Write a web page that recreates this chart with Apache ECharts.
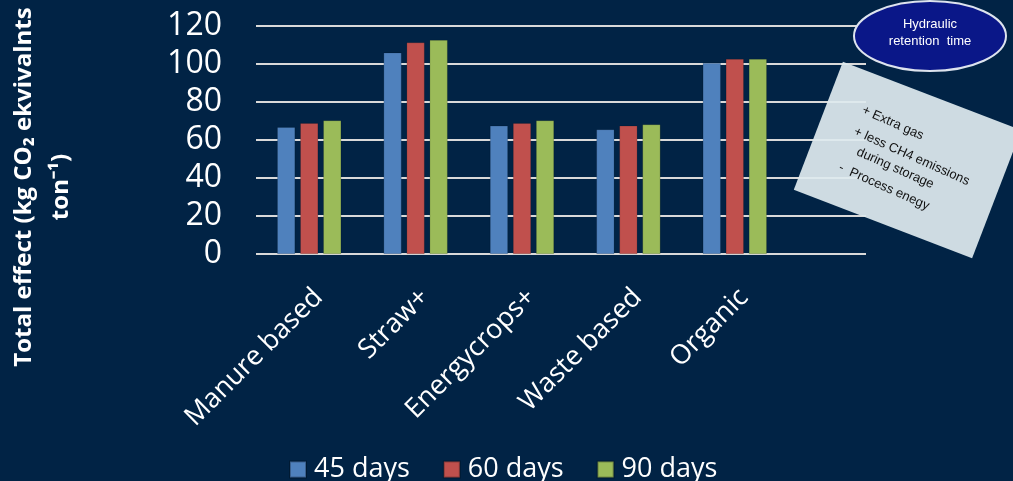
<!DOCTYPE html>
<html>
<head>
<meta charset="utf-8">
<script src="https://cdn.jsdelivr.net/npm/echarts@6/dist/echarts.min.js"></script>
<style>
html,body{margin:0;padding:0;background:#012345;}
#main{width:1013px;height:481px;}
</style>
</head>
<body>
<div id="main"></div>
<script>
const categories = ['Manure based', 'Straw+', 'Energycrops+', 'Waste based', 'Organic'];
const seriesNames = ['45 days', '60 days', '90 days'];
const days45 = [66.8, 106, 67.5, 65.6, 100.6];
const days60 = [68.9, 111.3, 68.9, 67.5, 102.6];
const days90 = [70.3, 112.6, 70.3, 68.2, 102.6];
const yTicks = [0, 20, 40, 60, 80, 100, 120];
const yTitle = 'Total effect (kg CO\u2082 ekvivalnts\nton\u207B\u00B9)';
const colors = ['#4f81bd', '#c0504d', '#9bbb59'];

const FONT = '"Open Sans", sans-serif';
const NOTE_FONT = '13px "Liberation Sans", Arial, sans-serif';
const chart = echarts.init(document.getElementById('main'), null, {renderer: 'canvas'});

const seriesData = [days45, days60, days90];
const tr = -3 * Math.PI / 180;
const option = {
  backgroundColor: '#012345',
  animation: false,
  grid: [
    {left: 256, top: 26, width: 532, height: 228, containLabel: false, outerBoundsMode: 'none'},
    {left: 256, top: 26, width: 610, height: 228, containLabel: false, outerBoundsMode: 'none'}
  ],
  legend: {
    data: seriesNames,
    left: 284,
    top: 451,
    itemWidth: 16,
    itemHeight: 16,
    itemGap: 33,
    icon: 'rect',
    textStyle: {color: '#ffffff', fontSize: 27, fontFamily: FONT, padding: [0, 0, 0, 3]}
  },
  xAxis: [
    {
      type: 'category', gridIndex: 0, data: categories,
      axisLine: {show: false}, axisTick: {show: false},
      axisLabel: {color: '#ffffff', fontSize: 27, fontFamily: FONT, rotate: 45, margin: 30, interval: 0,
        verticalAlign: 'top', lineHeight: 26}
    },
    {
      type: 'category', gridIndex: 1, data: categories, show: false
    }
  ],
  yAxis: [
    {
      type: 'value', gridIndex: 0, min: yTicks[0], max: yTicks[yTicks.length - 1], interval: 20,
      axisLine: {show: false}, axisTick: {show: false}, splitLine: {show: false},
      axisLabel: {color: '#ffffff', fontSize: 32, fontFamily: FONT, margin: 34, showMinLabel: true, showMaxLabel: true}
    },
    {
      type: 'value', gridIndex: 1, min: yTicks[0], max: yTicks[yTicks.length - 1], interval: 20,
      axisLine: {show: false}, axisTick: {show: false}, axisLabel: {show: false},
      splitLine: {show: true, lineStyle: {color: '#d9d9d9', width: 2}}
    }
  ],
  series: seriesNames.map((n, i) => ({
    name: n, type: 'bar', xAxisIndex: 0, yAxisIndex: 0,
    data: seriesData[i],
    barWidth: 18, barGap: '28%',
    itemStyle: {color: colors[i], borderColor: 'rgba(0,0,0,0.25)', borderWidth: 0.6},
    z: 3
  })),
  graphic: [
    {
      type: 'text', z: 10, x: 43, y: 187, rotation: Math.PI / 2,
      style: {text: yTitle, fill: '#ffffff', font: 'bold 24px "Open Sans", sans-serif', align: 'center', verticalAlign: 'middle', lineHeight: 37}
    },
    {
      type: 'ellipse', z: 20,
      shape: {cx: 930, cy: 36, rx: 76, ry: 35},
      style: {fill: '#0a1788', stroke: '#dde3ee', lineWidth: 2}
    },
    {
      type: 'text', z: 21, x: 930, y: 33,
      style: {text: 'Hydraulic\nretention  time', fill: '#ffffff', font: NOTE_FONT, align: 'center', verticalAlign: 'middle', lineHeight: 17}
    },
    {
      type: 'group', z: 20, x: 907.5, y: 160, rotation: -21 * Math.PI / 180,
      children: [
        {type: 'rect', z: 20, shape: {x: -95.5, y: -68.5, width: 191, height: 137},
          style: {fill: 'rgba(222,234,238,0.93)'}},
        {type: 'text', z: 21, x: -60, y: -31, rotation: tr, style: {text: '+ Extra gas', fill: '#111', font: NOTE_FONT, verticalAlign: 'middle'}},
        {type: 'text', z: 21, x: -60, y: -8, rotation: tr, style: {text: '+ less CH4 emissions', fill: '#111', font: NOTE_FONT, verticalAlign: 'middle'}},
        {type: 'text', z: 21, x: -50, y: 10, rotation: tr, style: {text: 'during storage', fill: '#111', font: NOTE_FONT, verticalAlign: 'middle'}},
        {type: 'text', z: 21, x: -61, y: 31, rotation: tr, style: {text: '-  Process enegy', fill: '#111', font: NOTE_FONT, verticalAlign: 'middle'}}
      ]
    }
  ]
};
chart.setOption(option);
</script>
</body>
</html>
